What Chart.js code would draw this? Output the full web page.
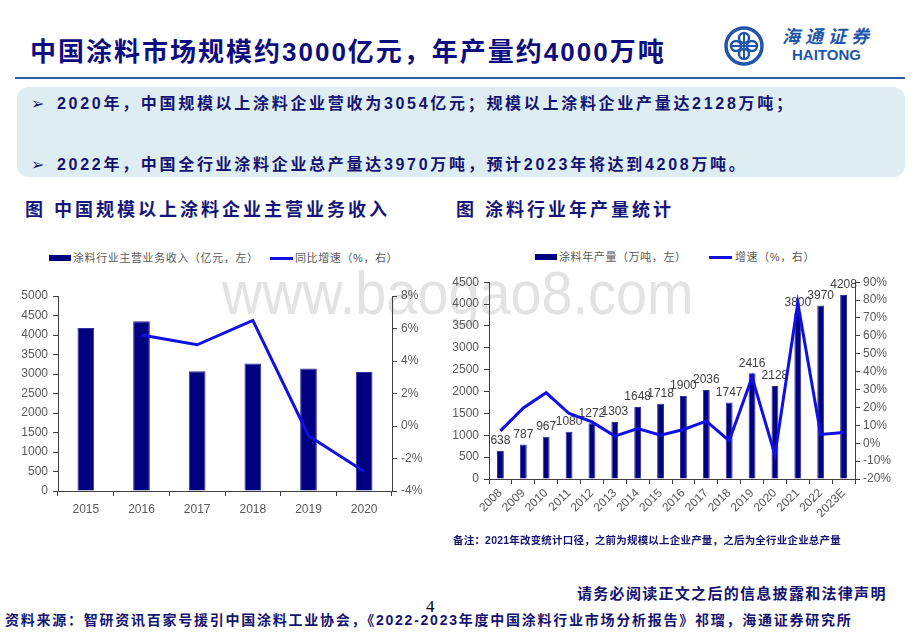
<!DOCTYPE html>
<html>
<head>
<meta charset="utf-8">
<script src="https://cdn.jsdelivr.net/npm/chart.js@4.4.0/dist/chart.umd.min.js"></script>
<style>
  html,body{margin:0;padding:0;background:#fff;}
  body{width:920px;height:637px;position:relative;overflow:hidden;font-family:"Liberation Sans","Noto Sans CJK SC",sans-serif;}
  .abs{position:absolute;white-space:nowrap;}
  #title{left:30px;top:39px;font-size:26px;line-height:26px;font-weight:bold;color:#0d0d80;letter-spacing:2px;}
  #rule{left:15px;top:77px;width:890px;height:2px;background:#2f5aa0;}
  #box{left:17px;top:87px;width:888px;height:90px;background:#deedf1;border-radius:12px;}
  .bul{font-size:16px;line-height:16px;font-weight:bold;color:#141470;letter-spacing:2.7px;}
  .arrow{font-family:"DejaVu Sans";font-size:16px;line-height:16px;color:#141470;}
  .head{font-size:18px;line-height:18px;font-weight:bold;color:#16167a;letter-spacing:3px;}
  .leg{font-size:11px;line-height:12px;color:#595959;letter-spacing:0.6px;}
  .lbox{height:6px;width:22px;background:#000080;}
  .lline{height:3px;width:23px;background:#0f0fe6;}
  #wm{left:222px;top:262px;font-family:"Liberation Sans";font-size:62px;line-height:62px;color:#e3e3e3;transform:scaleX(0.9);transform-origin:left top;}
  canvas{position:absolute;}
  #note{left:453px;top:534px;font-size:10.5px;line-height:12px;font-weight:bold;color:#141470;letter-spacing:0.2px;}
  #disc{left:577px;top:586px;font-size:15px;line-height:16px;font-weight:bold;color:#141470;letter-spacing:1.3px;}
  #pg{left:426px;top:598px;font-family:"Liberation Serif";font-size:17px;line-height:17px;color:#000;}
  #src{left:5px;top:612px;font-size:14px;line-height:16px;font-weight:bold;color:#141470;letter-spacing:1.75px;}
  #logoTxt{left:782px;top:28px;font-size:18px;line-height:19px;font-weight:bold;font-style:italic;color:#1f56a8;letter-spacing:5px;}
  #logoEn{left:792px;top:47px;font-size:15px;line-height:16px;font-weight:bold;color:#1f56a8;}
</style>
</head>
<body>
<div id="wm" class="abs">www.baogao8.com</div>

<div id="title" class="abs">中国涂料市场规模约3000亿元，年产量约4000万吨</div>
<svg class="abs" style="left:723px;top:25px" width="42" height="42" viewBox="0 0 42 42">
  <circle cx="21" cy="21" r="18" fill="none" stroke="#1f56a8" stroke-width="3.5"/>
  <circle cx="21" cy="13" r="5" fill="none" stroke="#1f56a8" stroke-width="2.5"/>
  <circle cx="21" cy="29" r="5" fill="none" stroke="#1f56a8" stroke-width="2.5"/>
  <circle cx="13" cy="21" r="5" fill="none" stroke="#1f56a8" stroke-width="2.5"/>
  <circle cx="29" cy="21" r="5" fill="none" stroke="#1f56a8" stroke-width="2.5"/>
  <line x1="21" y1="8" x2="21" y2="34" stroke="#1f56a8" stroke-width="2"/>
  <line x1="8" y1="21" x2="34" y2="21" stroke="#1f56a8" stroke-width="2"/>
</svg>
<div id="logoTxt" class="abs">海通证券</div>
<div id="logoEn" class="abs">HAITONG</div>
<div id="rule" class="abs"></div>

<div id="box" class="abs"></div>
<div class="abs arrow" style="left:31px;top:96px">➢</div>
<div class="abs bul" style="left:57px;top:96px">2020年，中国规模以上涂料企业营收为3054亿元；规模以上涂料企业产量达2128万吨；</div>
<div class="abs arrow" style="left:31px;top:157px">➢</div>
<div class="abs bul" style="left:57px;top:157px">2022年，中国全行业涂料企业总产量达3970万吨，预计2023年将达到4208万吨。</div>

<div class="abs head" style="left:25px;top:201px">图 中国规模以上涂料企业主营业务收入</div>
<div class="abs head" style="left:456px;top:201px">图 涂料行业年产量统计</div>

<div class="abs lbox" style="left:49px;top:255px"></div>
<div class="abs leg" style="left:73px;top:252px">涂料行业主营业务收入（亿元，左）</div>
<div class="abs lline" style="left:270px;top:257px"></div>
<div class="abs leg" style="left:295px;top:252px">同比增速（%，右）</div>

<div class="abs lbox" style="left:535px;top:254px"></div>
<div class="abs leg" style="left:559px;top:251px">涂料年产量（万吨，左）</div>
<div class="abs lline" style="left:709px;top:256px"></div>
<div class="abs leg" style="left:735px;top:251px">增速（%，右）</div>

<canvas id="c1" width="430" height="260" style="left:0px;top:270px;width:430px;height:260px"></canvas>
<canvas id="c2" width="480" height="270" style="left:440px;top:270px;width:480px;height:270px"></canvas>

<div id="note" class="abs">备注：2021年改变统计口径，之前为规模以上企业产量，之后为全行业企业总产量</div>
<div id="disc" class="abs">请务必阅读正文之后的信息披露和法律声明</div>
<div id="pg" class="abs">4</div>
<div id="src" class="abs">资料来源：智研资讯百家号援引中国涂料工业协会，《2022-2023年度中国涂料行业市场分析报告》祁瑠，海通证券研究所</div>

<script>
// ---- Data: left chart ----
const revYears = ['2015', '2016', '2017', '2018', '2019', '2020'];
const revenue = [4180, 4350, 3070, 3270, 3140, 3054];
const revGrowth = [null, 5.6, 5.0, 6.5, -0.6, -2.8];

// ---- Data: right chart ----
const prodYears = ['2008', '2009', '2010', '2011', '2012', '2013', '2014', '2015', '2016', '2017', '2018', '2019', '2020', '2021', '2022', '2023E'];
const production = [638, 787, 967, 1080, 1272, 1303, 1648, 1718, 1900, 2036, 1747, 2416, 2128, 3800, 3970, 4208];
const prodGrowth = [6.9, 19.7, 28.2, 16.6, 11.9, 4.0, 8.2, 4.5, 7.7, 12.3, 1.4, 36.8, -6.5, 78.4, 4.9, 6.0];

Chart.defaults.font.family = '"Liberation Sans", Arial, sans-serif';
Chart.defaults.font.size = 12;
Chart.defaults.color = '#595959';
Chart.defaults.animation = false;

const NAVY = '#000080';
const BLUE = '#0f0fe6';
const AXIS = '#404040';

const barLabels = {
  id: 'barLabels',
  afterDatasetDraw(chart, args, opts) {
    if (!opts || !opts.show || args.index !== 0) return;
    const ctx = chart.ctx;
    const meta = chart.getDatasetMeta(0);
    const data = chart.data.datasets[0].data;
    ctx.save();
    ctx.font = '12px "Liberation Sans", Arial, sans-serif';
    ctx.fillStyle = '#404040';
    ctx.textAlign = 'center';
    ctx.textBaseline = 'bottom';
    meta.data.forEach((el, i) => ctx.fillText(String(data[i]), el.x, el.y - 4));
    ctx.restore();
  }
};

function axisY(pos, min, max, step, width, fmt, pad) {
  return {
    position: pos, min: min, max: max,
    ticks: { stepSize: step, autoSkip: false, padding: pad, color: '#595959', font: { size: 12 },
      callback: fmt },
    grid: { drawOnChartArea: false, drawTicks: true, tickLength: 5, color: AXIS, tickColor: AXIS },
    border: { display: true, color: AXIS, width: 1 },
    afterFit(s) { s.width = width; }
  };
}

new Chart(document.getElementById('c1'), {
  data: {
    labels: revYears,
    datasets: [
      { type: 'bar', data: revenue, yAxisID: 'y', backgroundColor: NAVY, borderColor: '#3030a0', borderWidth: 1,
        categoryPercentage: 1.0, barPercentage: 0.3, order: 1 },
      { type: 'line', data: revGrowth, yAxisID: 'y1', borderColor: BLUE, borderWidth: 3, pointRadius: 0,
        tension: 0, fill: false, order: 0 }
    ]
  },
  options: {
    responsive: false,
    layout: { padding: { top: 26, left: 0, right: 0, bottom: 0 } },
    plugins: { legend: { display: false }, tooltip: { enabled: false } },
    scales: {
      x: {
        ticks: { padding: 6, color: '#595959', font: { size: 12 } },
        grid: { offset: true, drawOnChartArea: false, drawTicks: true, tickLength: 5, color: AXIS, tickColor: AXIS },
        border: { display: true, color: AXIS, width: 1 },
        afterFit(s) { s.height = 39; }
      },
      y: axisY('left', 0, 5000, 500, 58, v => String(v), 5),
      y1: axisY('right', -4, 8, 2, 38, v => v + '%', 4)
    }
  }
});

new Chart(document.getElementById('c2'), {
  data: {
    labels: prodYears,
    datasets: [
      { type: 'bar', data: production, yAxisID: 'y', backgroundColor: NAVY, borderColor: '#3030a0', borderWidth: 1,
        categoryPercentage: 1.0, barPercentage: 0.3, order: 1 },
      { type: 'line', data: prodGrowth, yAxisID: 'y1', borderColor: BLUE, borderWidth: 3, pointRadius: 0,
        tension: 0, fill: false, order: 0 }
    ]
  },
  options: {
    responsive: false,
    layout: { padding: { top: 11, left: 0, right: 0, bottom: 0 } },
    plugins: { legend: { display: false }, tooltip: { enabled: false }, barLabels: { show: true } },
    scales: {
      x: {
        ticks: { padding: 2, minRotation: 45, maxRotation: 45, autoSkip: false, color: '#595959', font: { size: 12 } },
        grid: { offset: true, drawOnChartArea: false, drawTicks: true, tickLength: 5, color: AXIS, tickColor: AXIS },
        border: { display: true, color: AXIS, width: 1 },
        afterFit(s) { s.height = 61; }
      },
      y: axisY('left', 0, 4500, 500, 49, v => String(v), 5),
      y1: axisY('right', -20, 90, 10, 65, v => v + '%', 3)
    }
  },
  plugins: [barLabels]
});
</script>
</body>
</html>
